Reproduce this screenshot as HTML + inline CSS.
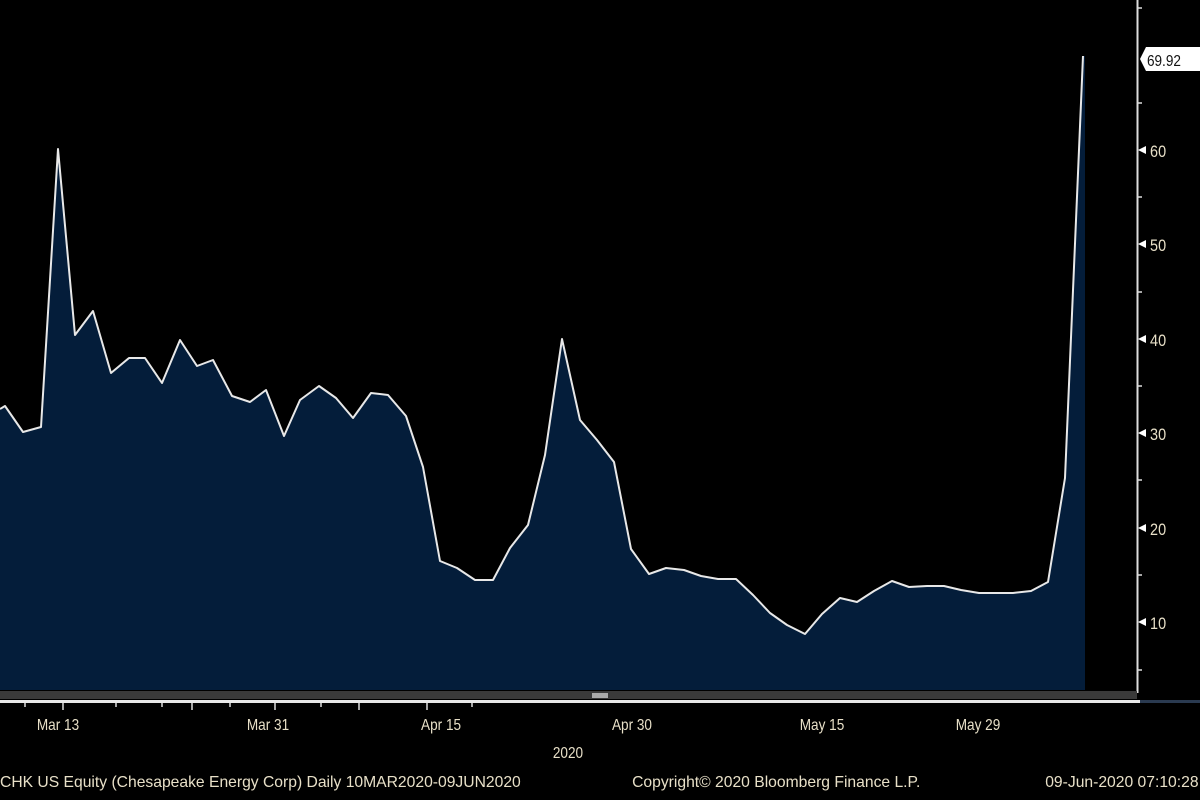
<!DOCTYPE html>
<html><head><meta charset="utf-8"><style>
html,body{margin:0;padding:0;background:#000;}
svg{display:block;}
text{font-family:"Liberation Sans","DejaVu Sans",sans-serif;}
</style></head><body>
<svg width="1200" height="800" viewBox="0 0 1200 800" xmlns="http://www.w3.org/2000/svg">
<rect width="1200" height="800" fill="#000"/>
<polygon fill="#041d3a" points="0,690 0,409 5,406 23,432 41,427 58,149 75,335 93,311 111,373 129,358 145,358 162,383 180,340 197,366 213,360 232,396 250,402 266,390 284,436 300,400 319,386 336,398 353,418 371,393 388,395 406,416 423,467 440,561 457,568 475,580 493,580 510,548 528,525 545,455 562,339 580,420 597,440 614,462 631,549 649,574 666,568 684,570 701,576 718,579 736,579 753,595 770,613 787,625 805,634 822,614 840,598 857,602 874,591 892,581 909,587 927,586 944,586 961,590 979,593 996,593 1013,593 1031,591 1048,582 1065,478 1083,56 1085,56 1085,690"/>
<polyline fill="none" stroke="#e8e8e8" stroke-width="2" stroke-linejoin="round" points="0,409 5,406 23,432 41,427 58,149 75,335 93,311 111,373 129,358 145,358 162,383 180,340 197,366 213,360 232,396 250,402 266,390 284,436 300,400 319,386 336,398 353,418 371,393 388,395 406,416 423,467 440,561 457,568 475,580 493,580 510,548 528,525 545,455 562,339 580,420 597,440 614,462 631,549 649,574 666,568 684,570 701,576 718,579 736,579 753,595 770,613 787,625 805,634 822,614 840,598 857,602 874,591 892,581 909,587 927,586 944,586 961,590 979,593 996,593 1013,593 1031,591 1048,582 1065,478 1083,56"/>
<line x1="1137.5" y1="0" x2="1137.5" y2="693" stroke="#ddd" stroke-width="2"/>
<g stroke="#ddd" stroke-width="1.5">
<line x1="1137" y1="8" x2="1142" y2="8"/><line x1="1137" y1="103" x2="1142" y2="103"/>
<line x1="1137" y1="197" x2="1142" y2="197"/><line x1="1137" y1="292" x2="1142" y2="292"/>
<line x1="1137" y1="386" x2="1142" y2="386"/><line x1="1137" y1="480" x2="1142" y2="480"/>
<line x1="1137" y1="575" x2="1142" y2="575"/><line x1="1137" y1="670" x2="1142" y2="670"/>
</g>
<g fill="#fff">
<polygon points="1138,150 1146,146 1146,154"/><polygon points="1138,244 1146,240 1146,248"/>
<polygon points="1138,339 1146,335 1146,343"/><polygon points="1138,433 1146,429 1146,437"/>
<polygon points="1138,528 1146,524 1146,532"/><polygon points="1138,622 1146,618 1146,626"/>
</g>
<g fill="#e8e0c8" font-size="17" transform="scale(0.85,1)">
<text x="1353" y="157">60</text>
<text x="1353" y="251">50</text>
<text x="1353" y="346">40</text>
<text x="1353" y="440">30</text>
<text x="1353" y="535">20</text>
<text x="1353" y="629">10</text>
</g>
<polygon points="1140,59 1146,47 1200,47 1200,71 1146,71" fill="#fff"/>
<text x="1147" y="66" font-size="16" fill="#111" transform="translate(172,0) scale(0.85,1)">69.92</text>
<rect x="0" y="691" width="1137" height="8" fill="#3a3a3a"/>
<rect x="592" y="693" width="16" height="5" fill="#aaa"/>
<rect x="0" y="700" width="1140" height="3" fill="#e8e8e8"/>
<rect x="1140" y="700" width="60" height="3" fill="#2a3a50"/>
<g stroke="#ddd" stroke-width="1.5">
<line x1="25" y1="703" x2="25" y2="707"/><line x1="63" y1="703" x2="63" y2="710"/>
<line x1="116" y1="703" x2="116" y2="707"/><line x1="162" y1="703" x2="162" y2="707"/>
<line x1="192" y1="703" x2="192" y2="710"/><line x1="230" y1="703" x2="230" y2="707"/>
<line x1="275" y1="703" x2="275" y2="710"/><line x1="321" y1="703" x2="321" y2="707"/>
<line x1="359" y1="703" x2="359" y2="710"/><line x1="427" y1="703" x2="427" y2="710"/>
<line x1="472" y1="703" x2="472" y2="707"/>
</g>
<g fill="#e8e0c8" font-size="16" text-anchor="middle">
<text x="58" y="730" transform="translate(8.7,0) scale(0.85,1)">Mar 13</text>
<text x="268" y="730" transform="translate(40.2,0) scale(0.85,1)">Mar 31</text>
<text x="441" y="730" transform="translate(66.2,0) scale(0.85,1)">Apr 15</text>
<text x="632" y="730" transform="translate(94.8,0) scale(0.85,1)">Apr 30</text>
<text x="822" y="730" transform="translate(123.3,0) scale(0.85,1)">May 15</text>
<text x="978" y="730" transform="translate(146.7,0) scale(0.85,1)">May 29</text>
<text x="568" y="758" transform="translate(85.2,0) scale(0.85,1)">2020</text>
</g>
<g fill="#e8e0c8" font-size="16">
<text x="0" y="787" transform="scale(0.98,1)">CHK US Equity (Chesapeake Energy Corp)  Daily 10MAR2020-09JUN2020</text>
<text x="645" y="787" transform="scale(0.98,1)">Copyright© 2020 Bloomberg Finance L.P.</text>
<text x="1223" y="787" text-anchor="end" transform="scale(0.98,1)">09-Jun-2020 07:10:28</text>
</g>
</svg>
</body></html>
